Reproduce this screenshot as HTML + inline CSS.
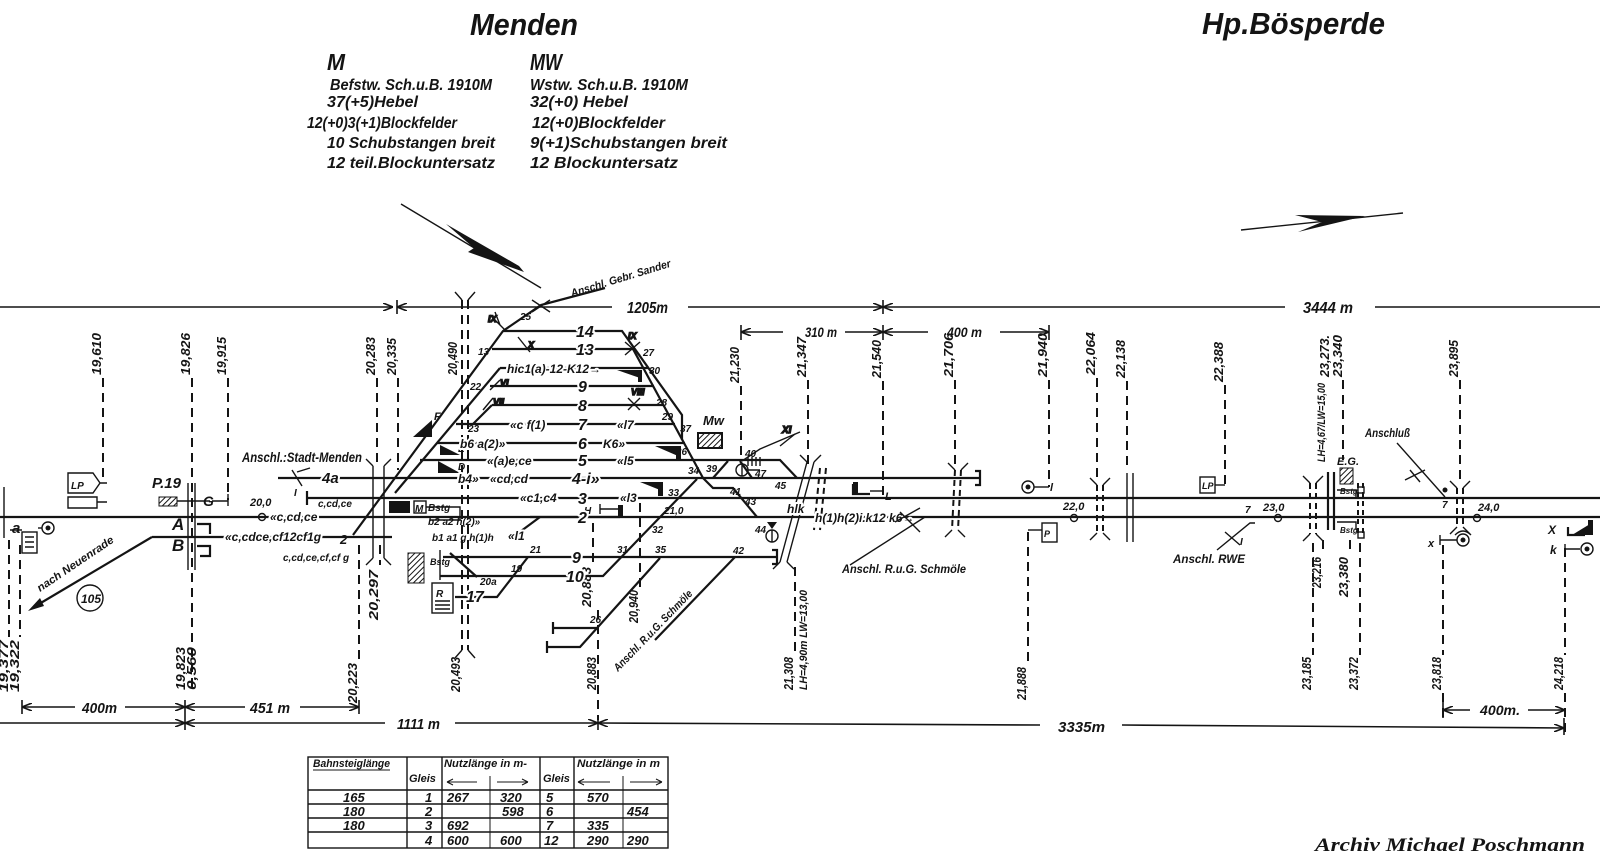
<!DOCTYPE html>
<html><head><meta charset="utf-8"><style>
html,body{margin:0;padding:0;background:#fff;}
svg{display:block}
svg text{font-family:"Liberation Sans",sans-serif;font-style:italic;font-weight:bold;fill:#141414}
.h{paint-order:stroke;stroke:#fff;stroke-width:4px;stroke-linejoin:round}
.ln{stroke:#141414;stroke-width:2.2;fill:none}
.th{stroke:#141414;stroke-width:1.4;fill:none}
.d{stroke:#141414;stroke-width:2;fill:none;stroke-dasharray:9 6}
.dm{stroke:#141414;stroke-width:1.6;fill:none}
.k{font-size:13px}
.n{font-size:16px}
.s{font-size:11px}
</style></head><body>
<svg width="1600" height="861" viewBox="0 0 1600 861" xmlns="http://www.w3.org/2000/svg">
<defs>
<marker id="a" viewBox="0 0 10 8" refX="10" refY="4" markerWidth="10" markerHeight="8" orient="auto-start-reverse" markerUnits="userSpaceOnUse"><path d="M0 0L10 4L0 8" fill="none" stroke="#141414" stroke-width="1.6"/></marker>
<pattern id="hatch" width="4" height="4" patternUnits="userSpaceOnUse" patternTransform="rotate(45)"><rect width="4" height="4" fill="#fff"/><line x1="0" y1="0" x2="0" y2="4" stroke="#141414" stroke-width="2"/></pattern>
</defs>

<!-- HEADER -->
<text x="470" y="35" font-size="31" textLength="108" lengthAdjust="spacingAndGlyphs">Menden</text>
<text x="327" y="70" font-size="23" font-weight="normal" textLength="18" lengthAdjust="spacingAndGlyphs">M</text>
<text x="530" y="70" font-size="23" font-weight="normal" textLength="32" lengthAdjust="spacingAndGlyphs">MW</text>
<g font-size="16">
<text x="330" y="90" textLength="162" lengthAdjust="spacingAndGlyphs">Befstw. Sch.u.B. 1910M</text>
<text x="327" y="107" textLength="91" lengthAdjust="spacingAndGlyphs">37(+5)Hebel</text>
<text x="307" y="128" textLength="150" lengthAdjust="spacingAndGlyphs">12(+0)3(+1)Blockfelder</text>
<text x="327" y="148" textLength="168" lengthAdjust="spacingAndGlyphs">10 Schubstangen breit</text>
<text x="327" y="168" textLength="168" lengthAdjust="spacingAndGlyphs">12 teil.Blockuntersatz</text>
<text x="530" y="90" textLength="158" lengthAdjust="spacingAndGlyphs">Wstw. Sch.u.B. 1910M</text>
<text x="530" y="107" textLength="98" lengthAdjust="spacingAndGlyphs">32(+0) Hebel</text>
<text x="532" y="128" textLength="133" lengthAdjust="spacingAndGlyphs">12(+0)Blockfelder</text>
<text x="530" y="148" textLength="197" lengthAdjust="spacingAndGlyphs">9(+1)Schubstangen breit</text>
<text x="530" y="168" textLength="148" lengthAdjust="spacingAndGlyphs">12 Blockuntersatz</text>
</g>
<text x="1202" y="34" font-size="31" textLength="183" lengthAdjust="spacingAndGlyphs">Hp.Bösperde</text>

<!-- direction arrows -->
<path class="th" d="M401 204 L541 288"/>
<polygon points="446,224 519,266 524,272 468,252 474,248" fill="#141414"/>
<path class="th" d="M1241 230 L1403 213"/>
<polygon points="1295,215 1365,216 1298,232 1322,222" fill="#141414"/>

<!-- TOP DIMENSION LINES -->
<path class="dm" d="M0 307 H393" marker-end="url(#a)"/>
<path class="dm" d="M397 300 V314 M883 300 V314"/>
<path class="dm" d="M397 307 H612" marker-start="url(#a)"/>
<text x="627" y="313" font-size="16" textLength="41" lengthAdjust="spacingAndGlyphs">1205m</text>
<path class="dm" d="M688 307 H883" marker-end="url(#a)"/>
<path class="dm" d="M883 307 H1285" marker-start="url(#a)"/>
<text x="1303" y="313" font-size="16" textLength="50" lengthAdjust="spacingAndGlyphs">3444 m</text>
<path class="dm" d="M1375 307 H1600"/>

<path class="dm" d="M741 325 V340 M883 325 V340 M1049 325 V340"/>
<path class="dm" d="M741 332 H783" marker-start="url(#a)"/>
<text x="805" y="337" font-size="14" textLength="32" lengthAdjust="spacingAndGlyphs">310 m</text>
<path class="dm" d="M845 332 H883" marker-end="url(#a)"/>
<path class="dm" d="M883 332 H928" marker-start="url(#a)"/>
<text x="947" y="337" font-size="14" textLength="35" lengthAdjust="spacingAndGlyphs">400 m</text>
<path class="dm" d="M1000 332 H1049" marker-end="url(#a)"/>

<!-- TOP KM LABELS -->
<g class="k">
<text transform="translate(101,375) rotate(-90)" textLength="42" lengthAdjust="spacingAndGlyphs">19,610</text>
<text transform="translate(190,375) rotate(-90)" textLength="42" lengthAdjust="spacingAndGlyphs">19,826</text>
<text transform="translate(226,375) rotate(-90)" textLength="38" lengthAdjust="spacingAndGlyphs">19,915</text>
<text transform="translate(375,375) rotate(-90)" textLength="38" lengthAdjust="spacingAndGlyphs">20,283</text>
<text transform="translate(396,375) rotate(-90)" textLength="37" lengthAdjust="spacingAndGlyphs">20,335</text>
<text transform="translate(457,375) rotate(-90)" textLength="33" lengthAdjust="spacingAndGlyphs">20,490</text>
<text transform="translate(739,383) rotate(-90)" textLength="36" lengthAdjust="spacingAndGlyphs">21,230</text>
<text transform="translate(806,377) rotate(-90)" textLength="40" lengthAdjust="spacingAndGlyphs">21,347</text>
<text transform="translate(881,378) rotate(-90)" textLength="38" lengthAdjust="spacingAndGlyphs">21,540</text>
<text transform="translate(953,377) rotate(-90)" textLength="44" lengthAdjust="spacingAndGlyphs">21,706</text>
<text transform="translate(1047,377) rotate(-90)" textLength="44" lengthAdjust="spacingAndGlyphs">21,940</text>
<text transform="translate(1095,375) rotate(-90)" textLength="43" lengthAdjust="spacingAndGlyphs">22,064</text>
<text transform="translate(1125,378) rotate(-90)" textLength="38" lengthAdjust="spacingAndGlyphs">22,138</text>
<text transform="translate(1223,382) rotate(-90)" textLength="40" lengthAdjust="spacingAndGlyphs">22,388</text>
<text transform="translate(1329,377) rotate(-90)" textLength="42" lengthAdjust="spacingAndGlyphs">23,273.</text>
<text transform="translate(1342,377) rotate(-90)" textLength="42" lengthAdjust="spacingAndGlyphs">23,340</text>
<text transform="translate(1458,377) rotate(-90)" textLength="37" lengthAdjust="spacingAndGlyphs">23,895</text>
<text transform="translate(1325,462) rotate(-90)" font-size="11" textLength="79" lengthAdjust="spacingAndGlyphs">LH=4,67/LW=15,00</text>
</g>
<path class="d" d="M103 378 V483 M192 378 V690 M228 378 V500 M377 378 V463 M398 378 V470 M741 386 V457 M808 380 V465 M883 381 V495 M955 380 V467 M1049 380 V487 M1097 378 V480 M1127 381 V470 M1225 385 V485 M1343 380 V460 M1460 380 V480"/>

<!-- BOTTOM KM LABELS -->
<g class="k">
<text transform="translate(8,692) rotate(-90)" textLength="52" lengthAdjust="spacingAndGlyphs">19,377</text>
<text transform="translate(19,692) rotate(-90)" textLength="52" lengthAdjust="spacingAndGlyphs">19,322</text>
<text transform="translate(185,690) rotate(-90)" textLength="43" lengthAdjust="spacingAndGlyphs">19,823</text>
<text transform="translate(196,690) rotate(-90)" textLength="43" lengthAdjust="spacingAndGlyphs">0,560</text>
<text transform="translate(357,703) rotate(-90)" textLength="40" lengthAdjust="spacingAndGlyphs">20,223</text>
<text transform="translate(378,620) rotate(-90)" textLength="50" lengthAdjust="spacingAndGlyphs">20,297</text>
<text transform="translate(460,692) rotate(-90)" textLength="35" lengthAdjust="spacingAndGlyphs">20,493</text>
<text transform="translate(591,607) rotate(-90)" textLength="40" lengthAdjust="spacingAndGlyphs">20,883</text>
<text transform="translate(596,690) rotate(-90)" textLength="33" lengthAdjust="spacingAndGlyphs">20,883</text>
<text transform="translate(638,623) rotate(-90)" textLength="33" lengthAdjust="spacingAndGlyphs">20,940</text>
<text transform="translate(793,690) rotate(-90)" textLength="33" lengthAdjust="spacingAndGlyphs">21,308</text>
<text transform="translate(807,690) rotate(-90)" font-size="11" textLength="100" lengthAdjust="spacingAndGlyphs">LH=4,90m LW=13,00</text>
<text transform="translate(1026,700) rotate(-90)" textLength="33" lengthAdjust="spacingAndGlyphs">21,888</text>
<text transform="translate(1311,690) rotate(-90)" textLength="33" lengthAdjust="spacingAndGlyphs">23,185</text>
<text transform="translate(1321,588) rotate(-90)" textLength="31" lengthAdjust="spacingAndGlyphs">23,216</text>
<text transform="translate(1348,597) rotate(-90)" textLength="40" lengthAdjust="spacingAndGlyphs">23,380</text>
<text transform="translate(1358,690) rotate(-90)" textLength="33" lengthAdjust="spacingAndGlyphs">23,372</text>
<text transform="translate(1441,690) rotate(-90)" textLength="33" lengthAdjust="spacingAndGlyphs">23,818</text>
<text transform="translate(1563,690) rotate(-90)" textLength="33" lengthAdjust="spacingAndGlyphs">24,218</text>
</g>
<path class="d" d="M9 540 V637 M20 545 V637 M359 545 V660 M380 545 V565 M593 523 V565 M598 610 V720 M640 503 V587 M795 567 V655 M1028 532 V664 M1313 543 V655 M1323 540 V555 M1350 540 V555 M1360 543 V655 M1443 545 V655 M1443 693 V718 M1565 548 V655 M1565 693 V735"/>

<!-- BOTTOM DIMENSIONS -->
<path class="dm" d="M22 700 V714 M185 700 V730 M359 700 V714 M598 716 V730 M1564 718 V735 M1443 702 V718"/>
<path class="dm" d="M22 707 H75" marker-start="url(#a)"/>
<text x="82" y="713" font-size="15" textLength="35" lengthAdjust="spacingAndGlyphs">400m</text>
<path class="dm" d="M125 707 H185" marker-end="url(#a)"/>
<path class="dm" d="M185 707 H245" marker-start="url(#a)"/>
<text x="250" y="713" font-size="15" textLength="40" lengthAdjust="spacingAndGlyphs">451 m</text>
<path class="dm" d="M300 707 H359" marker-end="url(#a)"/>
<path class="dm" d="M0 723 H185" marker-end="url(#a)"/>
<path class="dm" d="M185 723 H385" marker-start="url(#a)"/>
<text x="397" y="729" font-size="15" textLength="43" lengthAdjust="spacingAndGlyphs">1111 m</text>
<path class="dm" d="M455 723 H598" marker-end="url(#a)"/>
<path class="dm" d="M598 723 L1040 725" marker-start="url(#a)"/>
<text x="1058" y="732" font-size="15" textLength="47" lengthAdjust="spacingAndGlyphs">3335m</text>
<path class="dm" d="M1122 725 L1564 728" marker-end="url(#a)"/>
<path class="dm" d="M1443 710 H1470" marker-start="url(#a)"/>
<text x="1480" y="715" font-size="14" textLength="40" lengthAdjust="spacingAndGlyphs">400m.</text>
<path class="dm" d="M1528 710 H1565" marker-end="url(#a)"/>

<!-- MAIN TRACKS -->
<path class="ln" d="M0 517 H1600"/>
<path class="ln" d="M307 498 H1600 M307 491 V505"/>
<path class="ln" d="M152 537 H392 M152 537 L34 607"/>
<polygon points="28,611 40,598 44,606" fill="#141414"/>
<path class="ln" d="M278 478 H980 M975 471 H980 V485 H975"/>
<path class="th" d="M4 487 V538"/>

<!-- station fan -->
<path class="ln" d="M420 460 H780 L797 478"/>
<path class="ln" d="M437 443 H685"/>
<path class="ln" d="M456 424 H675"/>
<path class="ln" d="M492 405 H664 M473 424 L492 405"/>
<path class="ln" d="M490 386 H654"/>
<path class="ln" d="M500 368 H648"/>
<path class="ln" d="M492 349 H633"/>
<path class="ln" d="M503 331 H622 L682 415 V440"/>
<path class="ln" d="M353 535 L503 331 L541 305 L605 288"/>
<path class="ln" d="M395 493 L500 368"/>
<path class="ln" d="M633 349 L703 478 L713 488 H733 L757 517"/>
<path class="ln" d="M713 478 L728 461 M740 461 L752 478"/>
<path class="th" d="M742 461 L760 449 L800 432"/>

<!-- lower yard -->
<path class="ln" d="M443 557 H777 M772 550 H777 V564 H772"/>
<path class="ln" d="M440 576 H603 L697 479"/>
<path class="ln" d="M455 597 H497 L528 557"/>
<path class="ln" d="M450 553 L477 577"/>
<path class="th" d="M440 550 V580"/>
<path class="ln" d="M553 628 H597 M553 622 V634"/>
<path class="ln" d="M547 647 H580 L660 558 M547 641 V653"/>
<path class="ln" d="M735 557 L655 640"/>
<path class="ln" d="M620 517 L530 517"/>
<path class="ln" d="M513 537 L540 517"/>

<!-- bridges / double lines -->
<path class="d" d="M462 300 V650 M468 300 V650"/>
<path class="th" d="M455 292 L462 300 M475 292 L468 300 M455 658 L462 650 M475 658 L468 650"/>
<path class="th" d="M807 462 L780 562 M814 462 L787 562 M800 455 L807 462 M821 455 L814 462 M773 569 L780 562 M794 569 L787 562"/>
<path class="d" d="M820 468 L814 530 M826 468 L820 530" style="stroke-dasharray:6 4"/>
<path class="d" d="M955 470 L952 530 M961 470 L958 530" style="stroke-dasharray:6 4"/>
<path class="th" d="M948 463 L955 470 M968 463 L961 470 M945 537 L952 530 M965 537 L958 530"/>
<path class="d" d="M1097 485 V533 M1103 485 V533" style="stroke-dasharray:6 4"/>
<path class="th" d="M1090 478 L1097 485 M1110 478 L1103 485 M1090 540 L1097 533 M1110 540 L1103 533"/>
<path class="th" d="M1127 473 V542 M1133 473 V542"/>
<path class="d" d="M1310 483 V534 M1316 483 V534" style="stroke-dasharray:6 4"/>
<path class="th" d="M1303 476 L1310 483 M1323 476 L1316 483 M1303 541 L1310 534 M1323 541 L1316 534"/>
<path class="ln" d="M1328 472 V530 M1334 472 V530"/>
<path class="d" d="M1358 483 V533 M1363 483 V533" style="stroke-dasharray:5 4"/>
<path class="d" d="M1457 488 V527 M1463 488 V527" style="stroke-dasharray:6 4"/>
<path class="th" d="M1450 481 L1457 488 M1470 481 L1463 488 M1450 534 L1457 527 M1470 534 L1463 527"/>
<path class="th" d="M373 466 V558 M384 466 V558 M366 459 L373 466 M391 459 L384 466 M366 565 L373 558 M391 565 L384 558"/>
<path class="th" d="M188 483 V570 M195 483 V570"/>

<!-- LEFT AREA DETAILS -->
<text x="12" y="533" font-size="15">a</text>
<rect x="22" y="532" width="15" height="21" class="th" fill="#fff"/>
<path class="th" d="M25 537 H34 M25 542 H34 M25 547 H34 M10 530 H22"/>
<circle cx="48" cy="528" r="6" class="th"/><circle cx="48" cy="528" r="2.5" fill="#141414"/>
<path class="th" d="M38 528 H42"/>
<path class="th" d="M68 473 H93 L100 483 L93 493 H68 Z M100 483 H107 M68 497 H97 V508 H68 Z M97 502 H107"/>
<text x="71" y="489" font-size="10">LP</text>
<text x="152" y="488" font-size="15">P.19</text>
<rect x="159" y="497" width="18" height="9" fill="url(#hatch)" stroke="#141414"/>
<path class="th" d="M177 501 H210 M228 494 V506 M212 501 H228"/>
<text x="203" y="506" font-size="14">G</text>
<text x="172" y="530" font-size="17">A</text>
<text x="172" y="551" font-size="17">B</text>
<path class="ln" d="M197 524 H210 V534 M197 546 H210 V556 H200"/>
<circle cx="90" cy="598" r="13" class="th" stroke-width="2"/>
<text x="81" y="603" font-size="12" font-weight="normal">105</text>
<text transform="translate(40,592) rotate(-34)" font-size="11" textLength="90" lengthAdjust="spacingAndGlyphs">nach Neuenrade</text>
<text x="250" y="506" font-size="11">20,0</text>
<circle cx="262" cy="517" r="3.5" fill="#fff" class="th"/>
<text x="270" y="521" font-size="12" class="h">«c,cd,ce</text>
<text x="318" y="507" font-size="10">c,cd,ce</text>
<text x="225" y="541" font-size="12" class="h">«c,cdce,cf12cf1g</text>
<text x="283" y="561" font-size="10">c,cd,ce,cf,cf g</text>
<text x="340" y="544" font-size="13">2</text>
<text x="242" y="462" font-size="14" textLength="120" lengthAdjust="spacingAndGlyphs">Anschl.:Stadt-Menden</text>
<text x="322" y="483" font-size="15" class="h">4a</text>
<path class="th" d="M292 470 L302 486 M297 472 L310 468"/>
<text x="294" y="496" font-size="10">I</text>

<!-- station details -->
<rect x="389" y="501" width="21" height="12" fill="#141414"/>
<rect x="414" y="501" width="12" height="12" class="th" fill="#fff"/>
<text x="415" y="512" font-size="10">M</text>
<text x="428" y="511" font-size="10">Bstg</text>
<path class="th" d="M426 507 H460 V520 H430"/>
<rect x="408" y="553" width="16" height="30" fill="url(#hatch)" stroke="#141414"/>
<rect x="432" y="583" width="21" height="30" class="th" fill="#fff"/>
<text x="436" y="597" font-size="10">R</text>
<path class="th" d="M435 601 H450 M435 605 H450 M435 609 H450"/>
<text x="428" y="525" font-size="10">b2 a2 h(2)»</text>
<text x="432" y="541" font-size="10">b1 a1 g  h(1)h</text>
<text x="430" y="565" font-size="9">Bstg</text>

<polygon points="413,437 432,420 432,437" fill="#141414"/>
<text x="434" y="420" font-size="11">F</text>
<polygon points="440,445 460,455 440,455" fill="#141414"/>
<text x="458" y="452" font-size="10">E</text>
<polygon points="438,461 460,473 438,473" fill="#141414"/>
<text x="458" y="470" font-size="10">D</text>
<polygon points="655,446 678,456 678,446" fill="#141414"/><rect x="676" y="446" width="5" height="14" fill="#141414"/>
<polygon points="640,482 660,490 660,482" fill="#141414"/><rect x="658" y="482" width="5" height="14" fill="#141414"/>
<polygon points="617,370 640,378 640,370" fill="#141414"/><rect x="638" y="370" width="4" height="12" fill="#141414"/>
<rect x="618" y="505" width="5" height="13" fill="#141414"/>
<path class="th" d="M600 509 H620 M600 504 V514"/>
<text x="584" y="514" font-size="10">H</text>

<!-- track numbers / route labels -->
<g class="n">
<text x="576" y="337" class="h">14</text>
<text x="576" y="355" class="h">13</text>
<text x="507" y="373" font-size="12" class="h">hic1(a)-12-K12→</text>
<text x="578" y="392" class="h">9</text>
<text x="578" y="411" class="h">8</text>
<text x="578" y="430" class="h">7</text>
<text x="578" y="449" class="h">6</text>
<text x="578" y="466" class="h">5</text>
<text x="572" y="484" class="h">4-i»</text>
<text x="578" y="504" class="h">3</text>
<text x="578" y="523" class="h">2</text>
<text x="572" y="563" class="h">9</text>
<text x="566" y="582" class="h">10</text>
<text x="466" y="602" class="h">17</text>
</g>
<g font-size="12">
<text x="510" y="429" class="h">«c f(1)</text>
<text x="617" y="429" class="h">«l7</text>
<text x="460" y="448" class="h">b6 a(2)»</text>
<text x="603" y="448" class="h">K6»</text>
<text x="487" y="465" class="h">«(a)e,ce</text>
<text x="617" y="465" class="h">«l5</text>
<text x="458" y="483" class="h">b4»</text>
<text x="490" y="483" class="h">«cd,cd</text>
<text x="520" y="502" class="h">«c1,c4</text>
<text x="620" y="502" class="h">«l3</text>
<text x="508" y="540" class="h">«l1</text>
<text x="815" y="522" class="h">h(1)h(2)i.k12 k6→</text>
<text x="787" y="513" class="h">hlk</text>
<text x="478" y="355" font-size="10">13</text>
<text x="470" y="390" font-size="10">22</text>
<text x="468" y="432" font-size="10">23</text>
<text x="643" y="356" font-size="10">27</text>
<text x="649" y="374" font-size="10">30</text>
<text x="656" y="406" font-size="10">28</text>
<text x="662" y="420" font-size="10">29</text>
<text x="680" y="432" font-size="10">37</text>
<text x="676" y="455" font-size="10">36</text>
<text x="688" y="474" font-size="10">34</text>
<text x="706" y="472" font-size="10">39</text>
<text x="668" y="496" font-size="10">33</text>
<text x="664" y="514" font-size="10">21,0</text>
<text x="652" y="533" font-size="10">32</text>
<text x="617" y="553" font-size="10">31</text>
<text x="655" y="553" font-size="10">35</text>
<text x="733" y="554" font-size="10">42</text>
<text x="590" y="623" font-size="10">26</text>
<text x="530" y="553" font-size="10">21</text>
<text x="511" y="572" font-size="10">19</text>
<text x="480" y="585" font-size="10">20a</text>
<text x="745" y="457" font-size="10">40</text>
<text x="755" y="477" font-size="10">47</text>
<text x="730" y="495" font-size="10">41</text>
<text x="745" y="505" font-size="10">43</text>
<text x="755" y="533" font-size="10">44</text>
<text x="775" y="489" font-size="10">45</text>
<text x="520" y="320" font-size="10">25</text>
</g>
<g class="th">
<path d="M490 315 L505 330 M495 312 L500 325"/><text x="488" y="322" font-size="9">IX</text>
<path d="M518 337 L530 352"/><text x="528" y="348" font-size="9">X</text>
<path d="M490 390 L500 380"/><text x="500" y="386" font-size="9">VI</text>
<path d="M483 410 L493 398"/><text x="493" y="405" font-size="9">VII</text>
<path d="M625 342 L640 355 M625 355 L640 342"/><text x="628" y="339" font-size="9">IX</text>
<path d="M628 398 L640 410 M628 410 L640 398"/><text x="631" y="395" font-size="9">VIII</text>
<path d="M780 446 L795 434"/><text x="782" y="433" font-size="10">XI</text>
<path d="M532 300 L550 312 M532 312 L550 300"/>
</g>
<text transform="translate(572,297) rotate(-17)" font-size="11" textLength="104" lengthAdjust="spacingAndGlyphs">Anschl. Gebr. Sander</text>
<text transform="translate(618,672) rotate(-46)" font-size="11" textLength="108" lengthAdjust="spacingAndGlyphs">Anschl. R.u.G. Schmöle</text>
<text x="703" y="425" font-size="13">Mw</text>
<rect x="698" y="433" width="24" height="15" fill="url(#hatch)" stroke="#141414" stroke-width="2"/>
<path class="th" d="M748 457 V466 M752 457 V466 M756 457 V466 M760 457 V466"/>
<circle cx="742" cy="470" r="6" class="th"/><path class="th" d="M742 464 V476 M748 470 H760"/>
<circle cx="772" cy="536" r="6" class="th"/><path class="th" d="M772 530 V542"/>
<polygon points="767,522 777,522 772,529" fill="#141414"/>

<!-- right area -->
<path class="ln" d="M853 484 V494 H870"/><rect x="853" y="482" width="5" height="13" fill="#141414"/><path class="th" d="M870 491 H883"/>
<text x="885" y="500" font-size="11">L</text>
<path class="th" d="M920 532 L900 512 M895 522 L920 508"/>
<path class="th" d="M850 565 L925 517"/>
<text x="842" y="573" font-size="12" textLength="124" lengthAdjust="spacingAndGlyphs">Anschl. R.u.G. Schmöle</text>
<circle cx="1028" cy="487" r="6" class="th"/><circle cx="1028" cy="487" r="2.5" fill="#141414"/>
<path class="th" d="M1034 487 H1049"/><text x="1050" y="491" font-size="11">l</text>
<text x="1063" y="510" font-size="11">22,0</text>
<circle cx="1074" cy="518" r="3.5" fill="#fff" class="th"/>
<rect x="1042" y="523" width="15" height="19" class="th" fill="#fff"/>
<text x="1044" y="537" font-size="9">P</text>
<path class="th" d="M1028 530 H1042"/>
<rect x="1200" y="477" width="15" height="16" class="th" fill="#fff"/><text x="1202" y="489" font-size="9">LP</text>
<path class="th" d="M1215 485 H1225"/>
<text x="1263" y="511" font-size="11">23,0</text>
<circle cx="1278" cy="518" r="3.5" fill="#fff" class="th"/>
<text x="1245" y="513" font-size="10">7</text>
<path class="th" d="M1217 550 L1250 523 L1255 523 M1225 532 L1240 545"/>
<text x="1173" y="563" font-size="12" textLength="72" lengthAdjust="spacingAndGlyphs">Anschl. RWE</text>
<text x="1240" y="545" font-size="10">I</text>
<text x="1337" y="465" font-size="11">E.G.</text>
<rect x="1340" y="468" width="13" height="16" fill="url(#hatch)" stroke="#141414"/>
<text x="1340" y="494" font-size="8">Bstg</text>
<text x="1340" y="533" font-size="8">Bstg</text>
<path class="th" d="M1337 490 H1356 V498 M1337 522 H1356 V530"/>
<rect x="1358" y="487" width="6" height="6" class="th" fill="#fff"/>
<rect x="1358" y="532" width="6" height="6" class="th" fill="#fff"/>
<text x="1365" y="437" font-size="12" textLength="45" lengthAdjust="spacingAndGlyphs">Anschluß</text>
<path class="th" d="M1397 443 L1445 497 M1410 470 L1420 482 M1405 480 L1425 470"/>
<circle cx="1445" cy="490" r="2.5" fill="#141414"/>
<text x="1442" y="508" font-size="10">7</text>
<text x="1478" y="511" font-size="11">24,0</text>
<circle cx="1477" cy="518" r="3.5" fill="#fff" class="th"/>
<path class="th" d="M1455 535 Q1463 527 1471 535"/>
<circle cx="1463" cy="540" r="6" class="th"/><circle cx="1463" cy="540" r="2.5" fill="#141414"/>
<path class="th" d="M1440 540 H1457 M1440 535 V545"/>
<text x="1428" y="547" font-size="11">x</text>
<path class="ln" d="M1568 527 V535 H1585"/><polygon points="1572,535 1590,524 1590,535" fill="#141414"/><rect x="1588" y="520" width="5" height="15" fill="#141414"/>
<text x="1548" y="534" font-size="12">X</text>
<path class="th" d="M1565 549 H1580 M1565 544 V554"/>
<circle cx="1587" cy="549" r="6" class="th"/><circle cx="1587" cy="549" r="2.5" fill="#141414"/>
<text x="1550" y="554" font-size="12">k</text>

<!-- TABLE -->
<g class="th" stroke-width="1.6">
<rect x="308" y="757" width="360" height="91" fill="none"/>
<path d="M407 757 V848 M442 757 V848 M540 757 V848 M574 757 V848 M308 790 H668 M308 804 H668 M308 818 H668 M308 832 H668"/>
<path d="M490 776 V790 M490 790 V848 M623 776 V790 M623 790 V848" stroke-width="1"/>
<path d="M447 782 H477 M447 782 L453 779 M447 782 L453 785 M497 782 H528 M528 782 L522 779 M528 782 L522 785 M578 782 H610 M578 782 L584 779 M578 782 L584 785 M630 782 H662 M662 782 L656 779 M662 782 L656 785" stroke-width="1"/>
<path d="M313 770 H390" stroke-width="1"/>
</g>
<g font-size="11">
<text x="313" y="767" textLength="77" lengthAdjust="spacingAndGlyphs">Bahnsteiglänge</text>
<text x="409" y="782">Gleis</text>
<text x="444" y="767" textLength="83" lengthAdjust="spacingAndGlyphs">Nutzlänge in m-</text>
<text x="543" y="782">Gleis</text>
<text x="577" y="767" textLength="83" lengthAdjust="spacingAndGlyphs">Nutzlänge in m</text>
</g>
<g font-size="13">
<text x="343" y="802">165</text><text x="425" y="802">1</text><text x="447" y="802">267</text><text x="500" y="802">320</text><text x="546" y="802">5</text><text x="587" y="802">570</text>
<text x="343" y="816">180</text><text x="425" y="816">2</text><text x="502" y="816">598</text><text x="546" y="816">6</text><text x="627" y="816">454</text>
<text x="343" y="830">180</text><text x="425" y="830">3</text><text x="447" y="830">692</text><text x="546" y="830">7</text><text x="587" y="830">335</text>
<text x="425" y="845">4</text><text x="447" y="845">600</text><text x="500" y="845">600</text><text x="544" y="845">12</text><text x="587" y="845">290</text><text x="627" y="845">290</text>
</g>

<text x="1315" y="851" font-size="19" style="font-family:'Liberation Serif',serif;font-weight:bold;font-style:italic" textLength="270" lengthAdjust="spacingAndGlyphs">Archiv Michael Poschmann</text>
</svg>
</body></html>
